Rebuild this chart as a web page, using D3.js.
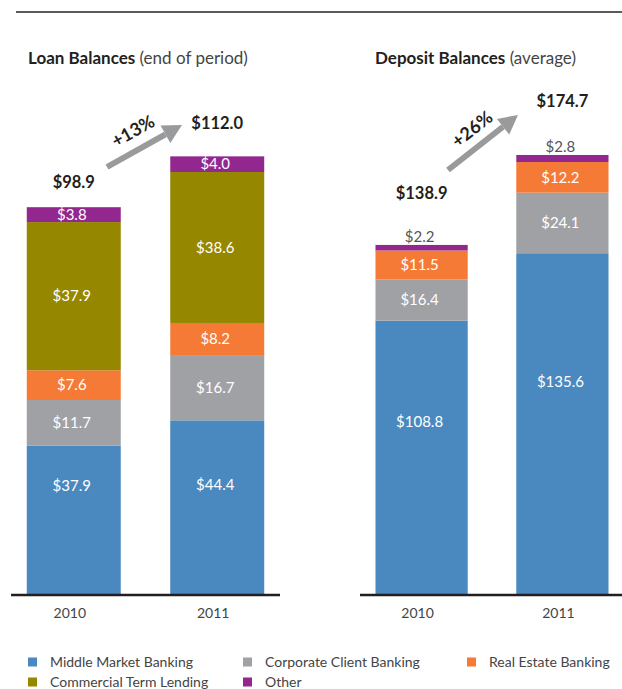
<!DOCTYPE html>
<html>
<head>
<meta charset="utf-8">
<script src="https://cdnjs.cloudflare.com/ajax/libs/d3/7.8.5/d3.min.js"></script>
<style>
  body { margin: 0; background: #fff; }
  svg { font-family: Lato, "Open Sans", sans-serif; }
</style>
</head>
<body>
<div id="plot"></div>
<script>
var w = 622, h = 689;

// data
var years = ['2010', '2011'];
var seriesNames = ['Middle Market Banking', 'Corporate Client Banking', 'Real Estate Banking', 'Commercial Term Lending', 'Other'];
var seriesColors = ['#4a89bf', '#a0a1a5', '#f47a35', '#968700', '#92278f'];

var loanMiddle = [37.9, 44.4],
    loanCorporate = [11.7, 16.7],
    loanRealEstate = [7.6, 8.2],
    loanTerm = [37.9, 38.6],
    loanOther = [3.8, 4.0],
    loanTotals = ['$98.9', '$112.0'],
    loanGrowth = '+13%';

var depMiddle = [108.8, 135.6],
    depCorporate = [16.4, 24.1],
    depRealEstate = [11.5, 12.2],
    depTerm = [0, 0],
    depOther = [2.2, 2.8],
    depTotals = ['$138.9', '$174.7'],
    depGrowth = '+26%';

var svg = d3.select('#plot').append('svg')
    .attr('width', w)
    .attr('height', h);

// top rule
svg.append('line')
    .attr('x1', 16).attr('x2', w)
    .attr('y1', 12).attr('y2', 12)
    .style('stroke', '#5a5a5a')
    .style('stroke-width', 2);

function buildRows(cols) {
    return years.map(function(y, i) {
        var row = {year: y};
        seriesNames.forEach(function(s, j) { row[s] = cols[j][i]; });
        return row;
    });
}

var charts = [
    {
        title: 'Loan Balances', sub: ' (end of period)', titleX: 28,
        rows: buildRows([loanMiddle, loanCorporate, loanRealEstate, loanTerm, loanOther]),
        totals: loanTotals, growth: loanGrowth,
        xRange: [11, 280], pxPerUnit: 3.911,
        totalDy: [25, 33], smallOutside: false, bottomFrac: [0.27, 0.37],
        arrow: [[107, 167], [182, 125]], growthPos: [133, 131], growthRot: -29
    },
    {
        title: 'Deposit Balances', sub: ' (average)', titleX: 375,
        rows: buildRows([depMiddle, depCorporate, depRealEstate, depTerm, depOther]),
        totals: depTotals, growth: depGrowth,
        xRange: [360, 624], pxPerUnit: 2.513,
        totalDy: [52, 54], smallOutside: true, bottomFrac: [0.37, 0.376],
        arrow: [[448, 170], [518, 115]], growthPos: [472, 129], growthRot: -38
    }
];

var baseY = 594;
var stack = d3.stack().keys(seriesNames);

charts.forEach(function(c) {
    var g = svg.append('g');

    var x = d3.scaleBand()
        .domain(years)
        .range(c.xRange)
        .paddingInner(0.345)
        .paddingOuter(0.11);

    var y = d3.scaleLinear()
        .domain([0, 100])
        .range([baseY, baseY - 100 * c.pxPerUnit]);

    // title
    var t = g.append('text')
        .attr('x', c.titleX)
        .attr('y', 64)
        .style('font-size', '17px')
        .style('fill', '#231f20');
    t.append('tspan').style('font-weight', 'bold').text(c.title);
    t.append('tspan').style('fill', '#444').text(c.sub);

    var layers = stack(c.rows);

    var layer = g.selectAll('.layer')
        .data(layers)
        .enter()
        .append('g')
        .attr('class', 'layer')
        .style('fill', function(d, i) { return seriesColors[i]; });

    layer.selectAll('rect')
        .data(function(d) { return d; })
        .enter()
        .append('rect')
        .attr('x', function(d) { return x(d.data.year); })
        .attr('width', x.bandwidth())
        .attr('y', function(d) { return y(d[1]); })
        .attr('height', function(d) { return y(d[0]) - y(d[1]); });

    // value labels
    layers.forEach(function(L, si) {
        L.forEach(function(d, bi) {
            var v = d[1] - d[0];
            if (v <= 0) return;
            var cx = x(d.data.year) + x.bandwidth() / 2;
            var top = y(d[1]), bot = y(d[0]);
            var outside = c.smallOutside && (bot - top) < 12;
            var ly;
            if (outside) ly = top - 8;
            else if (si === 0) ly = top + (bot - top) * c.bottomFrac[bi];
            else ly = (top + bot) / 2;
            g.append('text')
                .attr('x', cx - 2)
                .attr('y', ly)
                .attr('dy', '0.35em')
                .attr('text-anchor', 'middle')
                .style('font-size', '15px')
                .style('fill', outside ? '#555' : '#fff')
                .text('$' + v.toFixed(1));
        });
    });

    // totals
    c.rows.forEach(function(r, i) {
        var tot = d3.sum(seriesNames, function(s) { return r[s]; });
        g.append('text')
            .attr('x', x(r.year) + x.bandwidth() / 2)
            .attr('y', y(tot) - c.totalDy[i])
            .attr('dy', '0.35em')
            .attr('text-anchor', 'middle')
            .style('font-size', '16.5px')
            .style('font-weight', 'bold')
            .style('fill', '#231f20')
            .text(c.totals[i]);
    });

    // growth arrow
    var a = c.arrow;
    var ang = Math.atan2(a[1][1] - a[0][1], a[1][0] - a[0][0]);
    var headL = 19, headW = 10;
    var bx = a[1][0] - headL * Math.cos(ang), by = a[1][1] - headL * Math.sin(ang);
    g.append('line')
        .attr('x1', a[0][0]).attr('y1', a[0][1])
        .attr('x2', bx).attr('y2', by)
        .style('stroke', '#999a9c')
        .style('stroke-width', 6);
    g.append('path')
        .attr('d', 'M' + a[1][0] + ',' + a[1][1] +
            'L' + (bx + headW * Math.sin(ang)) + ',' + (by - headW * Math.cos(ang)) +
            'L' + (bx - headW * Math.sin(ang)) + ',' + (by + headW * Math.cos(ang)) + 'Z')
        .style('fill', '#999a9c');
    g.append('text')
        .attr('transform', 'translate(' + c.growthPos[0] + ',' + c.growthPos[1] + ') rotate(' + c.growthRot + ')')
        .attr('text-anchor', 'middle')
        .attr('dy', '0.35em')
        .style('font-size', '18px')
        .style('font-weight', 'bold')
        .style('fill', '#231f20')
        .text(c.growth);

    // baseline
    g.append('line')
        .attr('x1', c.xRange[0]).attr('x2', c.xRange[1])
        .attr('y1', baseY + 1).attr('y2', baseY + 1)
        .style('stroke', '#231f20')
        .style('stroke-width', 2.5);

    // year labels
    g.selectAll('.year')
        .data(years)
        .enter()
        .append('text')
        .attr('class', 'year')
        .attr('x', function(d) { return x(d) + x.bandwidth() / 2 - 4; })
        .attr('y', 613)
        .attr('dy', '0.35em')
        .attr('text-anchor', 'middle')
        .style('font-size', '14px')
        .style('fill', '#444')
        .text(function(d) { return d; });
});

// legend
var legendX = [28, 243, 467], legendY = [662, 682];
var legend = svg.append('g')
    .selectAll('.key')
    .data(seriesNames)
    .enter()
    .append('g')
    .attr('class', 'key')
    .attr('transform', function(d, i) {
        return 'translate(' + legendX[i % 3] + ',' + legendY[Math.floor(i / 3)] + ')';
    });
legend.append('rect')
    .attr('x', 0).attr('y', -4.5)
    .attr('width', 9).attr('height', 9)
    .style('fill', function(d, i) { return seriesColors[i]; });
legend.append('text')
    .attr('x', 22)
    .attr('dy', '0.35em')
    .style('font-size', '14px')
    .style('fill', '#444')
    .text(function(d) { return d; });
</script>
</body>
</html>
